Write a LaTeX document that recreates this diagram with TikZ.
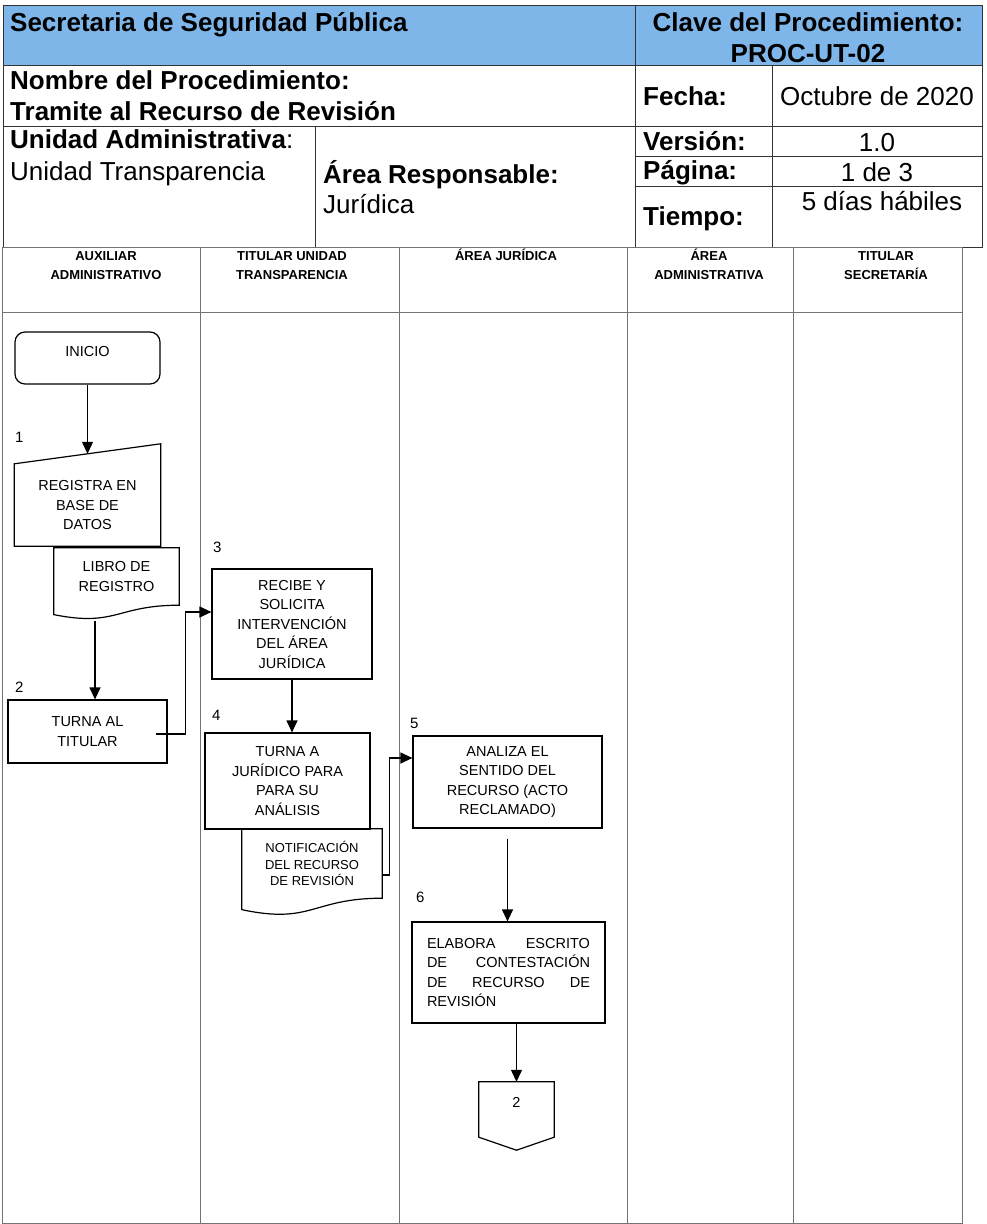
\documentclass[tikz,border=0pt]{standalone}
\usepackage{fontspec}
\setmainfont{Liberation Sans}
\usetikzlibrary{calc,arrows.meta}
\definecolor{headblue}{RGB}{126,182,234}

\begin{document}
\begin{tikzpicture}[
        x=1pt, y=-1pt,
        tableline/.style={draw=black!80, line width=1pt},
        laneline/.style={draw=black!55, line width=0.8pt},
        headtext/.style={
            inner sep=0pt,
            font=\fontsize{26}{31}\selectfont
        },
        lanehead/.style={
            inner sep=0pt,
            anchor=north,
            align=center,
            font=\fontsize{13}{19}\selectfont\bfseries
        },
        stepbox/.style={
            rectangle,
            draw,
            line width=1.2pt,
            align=center,
            inner sep=0pt,
            font=\fontsize{14.5}{19.5}\selectfont
        },
        startbox/.style={
            stepbox,
            rounded corners=10pt,
            text height=10.4pt,
            text depth=13pt
        },
        docbox/.style={
            rectangle,
            align=center,
            inner sep=0pt,
            font=\fontsize{14.5}{19.5}\selectfont
        },
        shapeline/.style={line width=1.2pt},
        numlabel/.style={
            anchor=base west,
            inner sep=0pt,
            font=\fontsize{15}{17}\selectfont
        },
        arrow/.style={-{Triangle[length=12pt,width=11pt]}, line width=1.2pt}
    ]
        \useasboundingbox (0,0) rectangle (987,1224);

        % header table
        \fill[headblue] (3,5) rectangle (982,65);
        \draw[tableline] (3,5) rectangle (982,247);
        \draw[tableline] (3,65) -- (982,65);
        \draw[tableline] (3,126) -- (982,126);
        \draw[tableline] (635,5) -- (635,247);
        \draw[tableline] (772,65) -- (772,247);
        \draw[tableline] (635,156) -- (982,156);
        \draw[tableline] (635,186) -- (982,186);
        \draw[tableline] (315,126) -- (315,247);

        % multi-line nodes: base is the last line
        \node[headtext, anchor=base west] (hsec) at (10,31) {\bfseries Secretaria de Seguridad Pública};
        \node[headtext, anchor=base, align=center] (hclave) at (808,62) {\bfseries Clave del Procedimiento:\\\bfseries PROC-UT-02};
        \node[headtext, anchor=base west, align=left] (hnom) at (10,120) {\bfseries Nombre del Procedimiento:\\\bfseries Tramite al Recurso de Revisión};
        \node[headtext, anchor=base west] (hfecha) at (643,105) {\bfseries Fecha:};
        \node[headtext, anchor=base] (hfechav) at (877,105) {Octubre de 2020};
        \node[headtext, anchor=base west] (hver) at (643,150) {\bfseries Versión:};
        \node[headtext, anchor=base] (hverv) at (877,151) {1.0};
        \node[headtext, anchor=base west] (hpag) at (643,179) {\bfseries Página:};
        \node[headtext, anchor=base] (hpagv) at (877,181) {1 de 3};
        \node[headtext, anchor=base west] (htiem) at (643,225) {\bfseries Tiempo:};
        \node[headtext, anchor=base] (htiemv) at (882,210) {5 días hábiles};
        \node[headtext, anchor=base west, align=left, font=\fontsize{26}{32}\selectfont] (hunid) at (10,180) {{\bfseries Unidad Administrativa}:\\Unidad Transparencia};
        \node[headtext, anchor=base west, align=left, font=\fontsize{26}{30}\selectfont] (harea) at (323,213) {\bfseries Área Responsable:\\Jurídica};

        % swimlanes
        \draw[laneline] (2,247) rectangle (962,1223);
        \draw[laneline] (2,312) -- (962,312);
        \draw[laneline] (200,247) -- (200,1223);
        \draw[laneline] (399,247) -- (399,1223);
        \draw[laneline] (627,247) -- (627,1223);
        \draw[laneline] (793,247) -- (793,1223);

        \node[lanehead] (laux) at (106,249) {\vphantom{Á}AUXILIAR\\ADMINISTRATIVO};
        \node[lanehead] (ltit) at (292,249) {\vphantom{Á}TITULAR UNIDAD\\TRANSPARENCIA};
        \node[lanehead] (ljur) at (506,249) {ÁREA JURÍDICA};
        \node[lanehead] (ladm) at (709,249) {ÁREA\\ADMINISTRATIVA};
        \node[lanehead] (lsec) at (886,249) {\vphantom{Á}TITULAR\\SECRETARÍA};

        % steps
        \node[startbox, minimum width=145pt, minimum height=52pt] (inicio) at (87.5,358) {INICIO};
        \node[docbox, minimum width=146pt, minimum height=82pt] (reg) at (87.5,505) {REGISTRA EN\\BASE DE\\DATOS};
        \node[docbox, minimum width=125pt, minimum height=57pt] (libro) at (116.5,576.5) {LIBRO DE\\REGISTRO};
        \node[stepbox, minimum width=159pt, minimum height=63pt] (turna) at (87.5,731.5) {TURNA AL\\TITULAR};
        \node[stepbox, minimum width=160pt, minimum height=110pt] (recibe) at (292,624) {RECIBE Y\\SOLICITA\\INTERVENCIÓN\\DEL ÁREA\\JURÍDICA};
        \node[stepbox, minimum width=165pt, minimum height=96pt] (turnaa) at (287.5,781) {TURNA A\\JURÍDICO PARA\\PARA SU\\ANÁLISIS};
        \node[docbox, minimum width=140pt, minimum height=69pt, font=\fontsize{13}{16.5}\selectfont] (notif) at (312,863.5) {NOTIFICACIÓN\\DEL RECURSO\\DE REVISIÓN};
        \node[stepbox, minimum width=189pt, minimum height=92pt] (analiza) at (507.5,782) {ANALIZA EL\\SENTIDO DEL\\RECURSO (ACTO\\RECLAMADO)};
        \node[stepbox, minimum width=193pt, minimum height=101pt, text width=163pt, align=left] (elabora) at (508.5,972.5) {ELABORA\hfill ESCRITO\\DE\hfill CONTESTACIÓN\\DE\hfill RECURSO\hfill DE\\REVISIÓN};
        \node[docbox, minimum width=75pt, minimum height=55pt, text height=10.4pt, text depth=14pt] (offp) at (516.5,1109.5) {2};

        % shape outlines
        \draw[shapeline] (reg.north west) -- ([yshift=20pt]reg.north east) -- (reg.south east) -- (reg.south west) -- cycle;
        \draw[shapeline] (libro.north west) -- (libro.north east) -- (libro.south east)
            .. controls (libro.south) and ($(libro.north)!1.3815!(libro.south)$) .. ($(libro.north west)!1.1646!(libro.south west)$) -- cycle;
        \draw[shapeline] (notif.north west) -- (notif.north east) -- (notif.south east)
            .. controls (notif.south) and ($(notif.north)!1.3815!(notif.south)$) .. ($(notif.north west)!1.1646!(notif.south west)$) -- cycle;
        \draw[shapeline] (offp.north west) -- (offp.north east) -- (offp.south east) -- ([yshift=-13pt]offp.south) -- (offp.south west) -- cycle;

        % step numbers
        \node[numlabel] (n1) at (15,442) {1};
        \node[numlabel] (n2) at (15,692) {2};
        \node[numlabel] (n3) at (213,552) {3};
        \node[numlabel] (n4) at (212,720) {4};
        \node[numlabel] (n5) at (410,728) {5};
        \node[numlabel] (n6) at (416,902) {6};

        % connectors
        \draw[arrow] (inicio.south) -- ([yshift=10pt]reg.north);
        \draw[arrow] ([xshift=-21.5pt,yshift=-16pt]libro.south) -- ([xshift=-21.5pt]libro.south |- turna.north);
        \draw[arrow] ([xshift=-12pt,yshift=-2.5pt]turna.east) -- ++(30,0) |- ([yshift=12pt]recibe.west);
        \draw[arrow] (recibe.south) -- (recibe.south |- turnaa.north);
        \draw[arrow] ([yshift=-11.5pt]notif.east) -- ++(7,0) |- ([yshift=24pt]analiza.west);
        \draw[arrow] ([yshift=-10pt]analiza.south) -- (analiza.south |- elabora.north);
        \draw[arrow] (elabora.south -| offp.north) -- (offp.north);
    \end{tikzpicture}
\end{document}
